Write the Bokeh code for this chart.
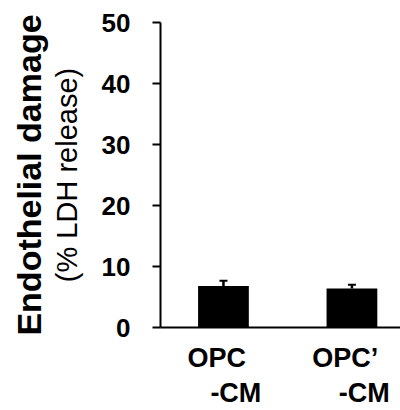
from bokeh.plotting import figure
from bokeh.models import (ColumnDataSource, FixedTicker, LinearAxis,
                          Whisker, TeeHead, Range1d, CustomJSTickFormatter)
from bokeh.embed import file_html
from bokeh.resources import INLINE

# ---- data ----
categories = ["OPC-CM", "OPC\u2019-CM"]
label_line1 = ["OPC", "OPC\u2019"]
label_line2 = ["-CM", "-CM"]
values = [6.8, 6.4]
errors = [0.85, 0.6]
y_ticks = [0, 10, 20, 30, 40, 50]

xs = [i + 1 for i in range(len(categories))]
upper = [v + e for v, e in zip(values, errors)]

FONT = "Liberation Sans"

p = figure(width=400, height=410, output_backend="svg", toolbar_location=None,
           x_range=Range1d(0.51, 2.378), y_range=Range1d(0, 50),
           min_border_left=160, min_border_right=0, min_border_top=22,
           min_border_bottom=80)
p.outline_line_color = None
p.xgrid.visible = False
p.ygrid.visible = False
p.background_fill_color = "white"
p.border_fill_color = "white"

src = ColumnDataSource(dict(x=xs, top=values, upper=upper))
p.vbar(x="x", top="top", bottom=0, width=0.395, source=src,
       fill_color="black", line_color=None)

wh = Whisker(source=src, base="x", lower="top", upper="upper",
             line_color="black", line_width=2.5,
             upper_head=TeeHead(size=8, line_width=2, line_color="black"),
             lower_head=None)
p.add_layout(wh)

# y axis
ya = p.yaxis[0]
ya.ticker = FixedTicker(ticks=y_ticks)
ya.minor_tick_line_color = None
ya.major_tick_in = 0
ya.major_tick_out = 8
ya.major_tick_line_width = 2
ya.axis_line_width = 2
ya.axis_line_color = "black"
ya.major_tick_line_color = "black"
ya.major_label_text_font = FONT
ya.major_label_text_font_style = "bold"
ya.major_label_text_font_size = "26px"
ya.major_label_text_color = "black"
ya.major_label_standoff = 22
ya.axis_label = "(% LDH release)"
ya.axis_label_text_font = FONT
ya.axis_label_text_font_style = "normal"
ya.axis_label_text_font_size = "29px"
ya.axis_label_text_color = "black"
ya.axis_label_standoff = 16

ya2 = LinearAxis(ticker=FixedTicker(ticks=[]), axis_label="Endothelial damage",
                 axis_line_color=None, major_tick_line_color=None,
                 minor_tick_line_color=None, major_label_text_font_size="0px",
                 axis_label_text_font=FONT, axis_label_text_font_style="bold",
                 axis_label_text_font_size="34px", axis_label_text_color="black",
                 axis_label_standoff=0)
p.add_layout(ya2, "left")

# x axis: category labels, line 1 (axis line drawn here)
PX_PER_UNIT = 124.2
xa = p.xaxis[0]
xa.ticker = FixedTicker(ticks=[x - 6.5 / PX_PER_UNIT for x in xs])
xa.formatter = CustomJSTickFormatter(args=dict(labels=label_line1),
                                     code="return labels[index]")
xa.major_tick_line_color = None
xa.minor_tick_line_color = None
xa.major_tick_out = 0
xa.major_tick_in = 0
xa.major_label_standoff = 15
xa.major_label_text_font = FONT
xa.major_label_text_font_style = "bold"
xa.major_label_text_font_size = "27px"
xa.major_label_text_color = "black"
xa.axis_line_width = 2
xa.axis_line_color = "black"

# x axis: category labels, line 2
xa2 = LinearAxis(ticker=FixedTicker(ticks=[x + 12 / PX_PER_UNIT for x in xs]),
                 formatter=CustomJSTickFormatter(args=dict(labels=label_line2),
                                                 code="return labels[index]"),
                 axis_line_color=None, major_tick_line_color=None,
                 minor_tick_line_color=None, major_tick_out=0, major_tick_in=0,
                 major_label_standoff=2, major_label_text_font=FONT,
                 major_label_text_font_style="bold",
                 major_label_text_font_size="27px",
                 major_label_text_color="black")
p.add_layout(xa2, "below")

open("out.html", "w").write(file_html(p, INLINE))
